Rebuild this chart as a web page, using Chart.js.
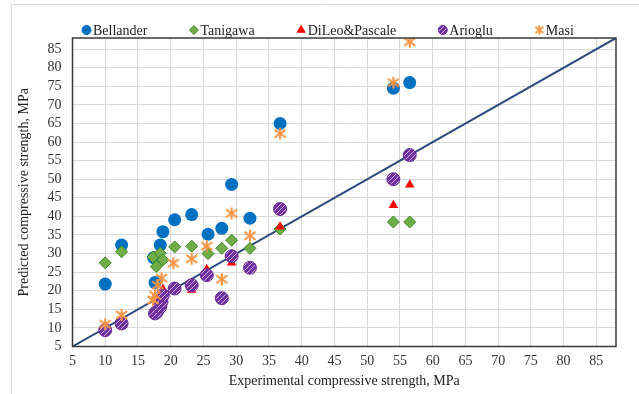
<!DOCTYPE html>
<html>
<head>
<meta charset="utf-8">
<script src="https://cdn.jsdelivr.net/npm/chart.js@4"></script>
<style>
  html, body { margin: 0; padding: 0; background: #fff; }
  canvas { display: block; }
</style>
</head>
<body>
<canvas id="chart" width="639" height="394"></canvas>
<script>
// Predicted vs experimental compressive strength (MPa)
const seriesNames = ["Bellander", "Tanigawa", "DiLeo&Pascale", "Arioglu", "Masi"];

const bellanderX = [10, 12.5, 17.6, 17.4, 18.4, 18.8, 20.6, 23.2, 25.7, 27.8, 29.3, 32.1, 36.7, 54, 56.5];
const bellanderY = [21.8, 32.3, 22.2, 28.9, 32.3, 35.9, 39.1, 40.5, 35.2, 36.8, 48.6, 39.5, 65, 74.5, 76];

const tanigawaX = [10, 12.5, 17.3, 17.8, 18.4, 18.8, 20.6, 23.2, 25.7, 27.8, 29.3, 32.1, 36.7, 54, 56.5];
const tanigawaY = [27.5, 30.5, 29.1, 26.5, 30.1, 28.3, 31.8, 32, 30, 31.4, 33.6, 31.4, 36.6, 38.5, 38.5];

const dileoX = [18.8, 23.2, 25.5, 29.3, 36.7, 54, 56.5];
const dileoY = [20.5, 20.2, 25.8, 27.5, 37.2, 43, 48.5];

const ariogluX = [10, 12.5, 17.6, 17.9, 18.4, 18.6, 18.8, 20.6, 23.2, 25.5, 27.8, 29.3, 32.1, 36.7, 54, 56.5];
const ariogluY = [9.4, 11.2, 13.9, 14.4, 15.7, 17, 18.8, 20.6, 21.5, 24.2, 18, 29.3, 26.2, 42, 50, 56.5];

const masiX = [10, 12.5, 17.3, 17.6, 18, 18.6, 20.4, 23.2, 25.5, 27.8, 29.3, 32.1, 36.7, 54, 56.5];
const masiY = [11, 13.5, 17.5, 18.8, 21.5, 23.4, 27.4, 28.6, 32, 23.1, 40.8, 34.8, 62.3, 76, 87];

// line of equality
const lineX = [5, 88];
const lineY = [5, 88];

const axisMin = 5;
const axisMax = 88;
const tickStep = 5;

const serif = "'Liberation Serif', 'Times New Roman', serif";

// thin white stripes on purple, like the Excel marker fill
function makeHatch() {
  let c = document.createElement("canvas");
  c.width = 5; c.height = 5;
  let g = c.getContext("2d");
  g.fillStyle = "#7030A0";
  g.fillRect(0, 0, 5, 5);
  g.strokeStyle = "rgba(255,255,255,0.7)";
  g.lineWidth = 0.9;
  g.beginPath();
  g.moveTo(0, 5); g.lineTo(5, 0);
  g.moveTo(-1, 1); g.lineTo(1, -1);
  g.moveTo(4, 6); g.lineTo(6, 4);
  g.stroke();
  return g.createPattern(c, "repeat");
}

// asterisk marker: X plus a vertical bar
function makeStar(size) {
  let c = document.createElement("canvas");
  c.width = size; c.height = size;
  let g = c.getContext("2d");
  let m = size / 2;
  g.strokeStyle = "#F79646";
  g.lineWidth = 2;
  g.beginPath();
  g.moveTo(m, 1); g.lineTo(m, size - 1);
  g.moveTo(1.5, size * 0.22); g.lineTo(size - 1.5, size * 0.78);
  g.moveTo(1.5, size * 0.78); g.lineTo(size - 1.5, size * 0.22);
  g.stroke();
  return c;
}

function toPoints(xs, ys) {
  return xs.map((x, i) => ({ x: x, y: ys[i] }));
}

const hatch = makeHatch();
const star = makeStar(14);
const legendStar = makeStar(11);

// white page, plot frame and the outer chart border
const framePlugin = {
  id: "frame",
  beforeDraw(chart) {
    let ctx = chart.ctx;
    ctx.save();
    ctx.fillStyle = "#fff";
    ctx.fillRect(0, 0, chart.width, chart.height);
    ctx.strokeStyle = "#d9d9d9";
    ctx.lineWidth = 1;
    ctx.beginPath();
    ctx.moveTo(11.5, chart.height);
    ctx.lineTo(11.5, 4.5);
    ctx.lineTo(chart.width, 4.5);
    ctx.stroke();
    ctx.restore();
  },
  afterDatasetsDraw(chart) {
    let a = chart.chartArea;
    let ctx = chart.ctx;
    ctx.save();
    ctx.strokeStyle = "#3a3a3a";
    ctx.lineWidth = 1.5;
    ctx.strokeRect(a.left, a.top, a.right - a.left, a.bottom - a.top);
    ctx.restore();
  }
};

// legend row above the plot
const legendPlugin = {
  id: "topLegend",
  afterDraw(chart) {
    let ctx = chart.ctx;
    ctx.save();
    ctx.font = "14px " + serif;
    ctx.textBaseline = "middle";
    ctx.textAlign = "left";
    let x = 82;
    let y = 30;
    chart.data.datasets.forEach(ds => {
      if (ds.type === "line") return;
      let r = 4.5;
      ctx.fillStyle = ds.backgroundColor;
      ctx.strokeStyle = ds.borderColor;
      let style = ds.pointStyle === star ? legendStar : ds.pointStyle;
      Chart.helpers.drawPoint(ctx, { pointStyle: style, rotation: 0, radius: r, borderWidth: 1 }, x + r, y);
      ctx.fillStyle = "#222";
      ctx.fillText(ds.label, x + 2 * r + 2, y + 1);
      x += 2 * r + 2 + ctx.measureText(ds.label).width + 42;
    });
    ctx.restore();
  }
};

const axisTitleFont = { family: serif, size: 14 };
const tickFont = { family: serif, size: 14 };

new Chart(document.getElementById("chart"), {
  type: "scatter",
  data: {
    datasets: [
      {
        type: "line",
        label: "1:1",
        data: toPoints(lineX, lineY),
        borderColor: "#2B4A7C",
        borderWidth: 2,
        pointRadius: 0,
        fill: false,
        order: 6
      },
      {
        label: seriesNames[0],
        data: toPoints(bellanderX, bellanderY),
        pointStyle: "circle",
        pointRadius: 6.5,
        backgroundColor: "#0070C0",
        borderColor: "#0070C0",
        borderWidth: 0,
        order: 5
      },
      {
        label: seriesNames[1],
        data: toPoints(tanigawaX, tanigawaY),
        pointStyle: "rectRot",
        pointRadius: 6,
        backgroundColor: "#70AD47",
        borderColor: "#3F8A2A",
        borderWidth: 1,
        order: 4
      },
      {
        label: seriesNames[2],
        data: toPoints(dileoX, dileoY),
        pointStyle: "triangle",
        pointRadius: 5.5,
        backgroundColor: "#FF0000",
        borderColor: "#FF0000",
        borderWidth: 0,
        order: 3
      },
      {
        label: seriesNames[3],
        data: toPoints(ariogluX, ariogluY),
        pointStyle: "circle",
        pointRadius: 6.5,
        backgroundColor: hatch,
        borderColor: "#6A2C96",
        borderWidth: 1,
        order: 2
      },
      {
        label: seriesNames[4],
        data: toPoints(masiX, masiY),
        pointStyle: star,
        pointRadius: 7,
        backgroundColor: "#F79646",
        borderColor: "#F79646",
        order: 1
      }
    ]
  },
  options: {
    responsive: false,
    animation: false,
    layout: { padding: { top: 38, right: 23, left: 0, bottom: 0 } },
    plugins: {
      legend: { display: false },
      tooltip: { enabled: false }
    },
    scales: {
      x: {
        type: "linear",
        min: axisMin,
        max: axisMax,
        afterFit: s => { s.height = 47.5; },
        ticks: { stepSize: tickStep, includeBounds: false, autoSkip: false, color: "#333", font: tickFont, padding: 6, maxRotation: 0 },
        grid: { color: "#d9d9d9", drawTicks: false },
        border: { display: false },
        title: { display: true, text: "Experimental compressive strength, MPa", color: "#222", font: axisTitleFont, padding: { top: 0, bottom: 4 } }
      },
      y: {
        type: "linear",
        min: axisMin,
        max: axisMax,
        afterFit: s => { s.width = 72.5; },
        ticks: { stepSize: tickStep, includeBounds: false, autoSkip: false, color: "#333", font: tickFont, padding: 11 },
        grid: { color: "#d9d9d9", drawTicks: false },
        border: { display: false },
        title: { display: true, text: "Predicted compressive strength, MPa", color: "#222", font: axisTitleFont, padding: { top: 16, bottom: 0 } }
      }
    }
  },
  plugins: [framePlugin, legendPlugin]
});
</script>
</body>
</html>
